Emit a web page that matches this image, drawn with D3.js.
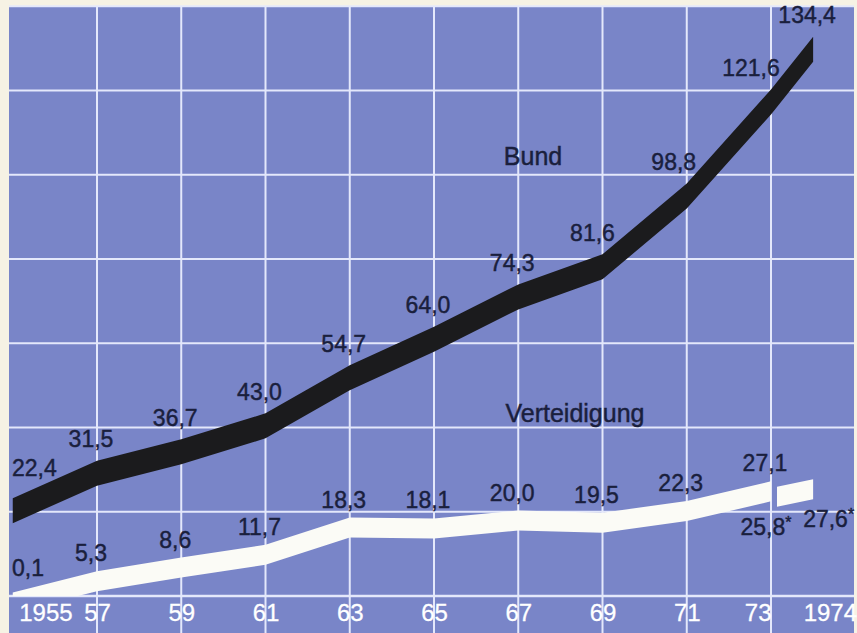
<!DOCTYPE html>
<html><head><meta charset="utf-8">
<script src="https://cdn.jsdelivr.net/npm/d3@7"></script>
<style>body{margin:0;background:#f6f2e4;} svg{display:block;}</style>
</head><body><svg id="c" width="857" height="633"></svg>
<script>
// ---- data ----
const bundYears = [1955,1957,1959,1961,1963,1965,1967,1969,1971,1973,1974];
const bundValues = [22.4,31.5,36.7,43.0,54.7,64.0,74.3,81.6,98.8,121.6,134.4];
const vertYears = [1955,1957,1959,1961,1963,1965,1967,1969,1971,1973];
const vertValues = [0.1,5.3,8.6,11.7,18.3,18.1,20.0,19.5,22.3,27.1];
const vertEstYears = [1973,1974];
const vertEstValues = [25.8,27.6];
const tickYears = [1955,1957,1959,1961,1963,1965,1967,1969,1971,1973,1974];
const tickLabels = ["1955","57","59","61","63","65","67","69","71","73","1974"];
const gridYears = [1957,1959,1961,1963,1965,1967,1969,1971,1973];
const seriesNames = ["Bund","Verteidigung"];

// ---- layout ----
const W = 857, H = 633;
const bg = {left:9, right:854, top:6, bottom:633};
const axisY = 596;
const FONT = '"Liberation Sans", Arial, Helvetica, sans-serif';
const BLUE = '#7985c8', GRID = '#e4e8fb', INK = '#1a1f3d';
const fmt = v => v.toFixed(1).replace('.', ',');

const x = d3.scaleLinear().domain([1955,1975]).range([12.75, 855.25]);
const y = d3.scaleLinear().domain([0,140]).range([603, 26.2]);
const cell = x(1957) - x(1955);

const svg = d3.select('#c');
svg.append('rect').attr('width',W).attr('height',H).attr('fill','#f6f2e4');
svg.append('rect').attr('x',bg.left).attr('y',bg.top)
  .attr('width',bg.right-bg.left).attr('height',bg.bottom-bg.top).attr('fill',BLUE);

svg.append('clipPath').attr('id','clip').append('rect')
  .attr('x',bg.left).attr('y',bg.top).attr('width',bg.right-bg.left).attr('height',axisY-bg.top);

// grid
const g = svg.append('g');
g.selectAll('line.v').data(gridYears).join('line')
  .attr('x1',d=>x(d)).attr('x2',d=>x(d)).attr('y1',bg.top).attr('y2',bg.bottom)
  .attr('stroke',GRID).attr('stroke-width',2);
g.selectAll('line.h').data(d3.range(0,8)).join('line')
  .attr('x1',bg.left).attr('x2',bg.right)
  .attr('y1',k=>axisY-k*cell).attr('y2',k=>axisY-k*cell)
  .attr('stroke',GRID).attr('stroke-width',k=>k===0?2.5:2);

// ribbons
const bund = bundYears.map((yr,i)=>({year:yr, v:bundValues[i]}));
const vert = vertYears.map((yr,i)=>({year:yr, v:vertValues[i]}));
const vertEst = vertEstYears.map((yr,i)=>({year:yr, v:vertEstValues[i]}));
const HB = 12.5, HW = 10, GAP = 6;

const ribbon = (h, dx=()=>0) => d3.area()
  .x((d,i)=>x(d.year)+dx(d,i)).y0(d=>y(d.v)+h).y1(d=>y(d.v)-h);

const lines = svg.append('g').attr('clip-path','url(#clip)');
lines.append('path').datum(bund).attr('d',ribbon(HB)).attr('fill','#1b1b1d');
lines.append('path').datum(vert).attr('d',ribbon(HW)).attr('fill','#fbfbf6');
lines.append('path').datum(vertEst).attr('d',ribbon(HW,(d,i)=>i===0?GAP:0)).attr('fill','#fbfbf6');

// helper: top edge of a ribbon at pixel x
function topFn(data, h){
  return px => {
    for (let i=0;i<data.length-1;i++){
      const a=x(data[i].year), b=x(data[i+1].year);
      if (px>=a && px<=b){
        const t=(px-a)/(b-a);
        return y(data[i].v+(data[i+1].v-data[i].v)*t)-h;
      }
    }
    return null;
  };
}

const inkText = sel => sel.attr('font-family',FONT).attr('fill',INK)
  .attr('stroke',INK).attr('stroke-width',0.45);

function valueLabels(data, h, rise){
  const top = topFn(data,h);
  const grp = svg.append('g');
  data.forEach(d=>{
    const t = grp.append('text').text(fmt(d.v)).call(inkText)
      .attr('font-size',23).attr('text-anchor','middle');
    const w = t.node().getComputedTextLength();
    const minCx = bg.left + 3 + w/2;
    let cx = Math.max(x(d.year)-6, minCx);
    let base = Math.min(y(d.v), axisY) - rise;
    const hits = () => {
      for (let px=cx-w/2; px<=cx+w/2; px+=1){
        const tp = top(px);
        if (tp!==null && tp < base+3) return true;
      }
      return false;
    };
    for (let s=0;s<40 && hits();s++){
      if (cx-1 >= minCx) cx -= 1; else base -= 1;
    }
    t.attr('x',cx).attr('y',base);
  });
}
valueLabels(bund, HB, 26);
valueLabels(vert, HW, 20);

// estimate labels with asterisk
vertEst.forEach((d,i)=>{
  const t = svg.append('text').call(inkText)
    .attr('font-size',23)
    .attr('text-anchor', i===0?'middle':'start')
    .attr('x', i===0 ? x(d.year)-5 : x(d.year)-10)
    .attr('y', y(d.v)+38);
  t.append('tspan').text(fmt(d.v));
  t.append('tspan').text('*').attr('font-size',16).attr('dy',-7);
});

// series names
svg.append('text').text(seriesNames[0]).attr('x',533).attr('y',165)
  .attr('text-anchor','middle').call(inkText).attr('font-size',25);
svg.append('text').text(seriesNames[1]).attr('x',575).attr('y',422)
  .attr('text-anchor','middle').call(inkText).attr('font-size',25);

// x axis
const ax = svg.append('g').attr('transform',`translate(0,${axisY})`)
  .call(d3.axisBottom(x).tickValues(tickYears).tickFormat((d,i)=>tickLabels[i]).tickSize(0).tickPadding(8));
ax.select('.domain').remove();
ax.selectAll('text').attr('fill','#ffffff').attr('stroke','#ffffff').attr('stroke-width',0.3)
  .attr('font-family',FONT).attr('font-size',24)
  .attr('text-anchor',(d,i)=> i===0 ? 'start' : (i===tickYears.length-2 ? 'end' : (i===tickYears.length-1 ? 'start':'middle')))
  .attr('x',(d,i)=> i===0 ? 6 : (i===tickYears.length-1 ? -10 : 0));
</script></body></html>
